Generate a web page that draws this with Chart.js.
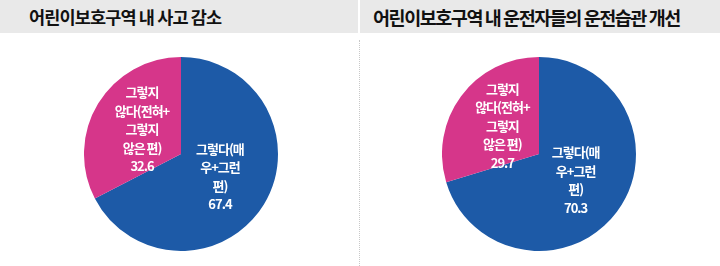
<!DOCTYPE html>
<html>
<head>
<meta charset="utf-8">
<script src="https://cdn.jsdelivr.net/npm/chart.js"></script>
<style>
  html, body { margin: 0; padding: 0; background: #fff; }
  body { width: 720px; height: 266px; position: relative; overflow: hidden;
         font-family: "Noto Sans CJK KR", "Noto Sans", sans-serif; }
  .band { position: absolute; top: 0; height: 33px; background: #e9e9e9; }
  .band h2 { margin: 0; font-size: 17.5px; font-weight: 700; letter-spacing: -0.85px;
             line-height: 34px; color: #111; white-space: nowrap; }
  .sep { position: absolute; left: 359px; top: 40px; bottom: 0; border-left: 1px dotted #c8c8c8; }
  .box { position: absolute; top: 57px; width: 194px; height: 194px; }
</style>
</head>
<body>
<div class="band" style="left:0;width:358px"><h2 style="padding-left:29px">어린이보호구역 내 사고 감소</h2></div>
<div class="band" style="left:360px;width:360px"><h2 style="padding-left:13px;font-size:18.5px;letter-spacing:-1.45px">어린이보호구역 내 운전자들의 운전습관 개선</h2></div>
<div class="sep"></div>
<div class="box" style="left:84px"><canvas id="chartAccident" width="194" height="194"></canvas></div>
<div class="box" style="left:442px"><canvas id="chartHabit" width="194" height="194"></canvas></div>

<script>
// 응답 항목 (슬라이스 안 줄바꿈 그대로)
const categoryLines = [
  ['그렇다(매', '우+그런', '편)'],
  ['그렇지', '않다(전혀+', '그렇지', '않은 편)']
];
const accidentValues = [67.4, 32.6];
const habitValues = [70.3, 29.7];
const sliceColors = ['#1d5aa7', '#d6368a'];

// 슬라이스 안에 항목명 + 값 쓰기
const insideLabels = {
  id: 'insideLabels',
  afterDatasetsDraw(chart) {
    const ctx = chart.ctx;
    const meta = chart.getDatasetMeta(0);
    const values = chart.data.datasets[0].data;
    ctx.save();
    ctx.fillStyle = '#fff';
    ctx.font = '700 13px "Noto Sans CJK KR", sans-serif';
    ctx.letterSpacing = '-1px';
    ctx.textAlign = 'center';
    ctx.textBaseline = 'middle';
    const lh = 18.5;
    meta.data.forEach((arc, i) => {
      const p = arc.getProps(['x', 'y', 'startAngle', 'endAngle', 'outerRadius'], true);
      const mid = (p.startAngle + p.endAngle) / 2;
      const r = p.outerRadius * 0.47;
      const cx = p.x + Math.cos(mid) * r;
      const cy = p.y + Math.sin(mid) * r;
      const lines = categoryLines[i].concat([values[i].toFixed(1)]);
      const top = cy - (lines.length - 1) * lh / 2 - 1;
      lines.forEach((t, k) => ctx.fillText(t, cx, top + k * lh));
    });
    ctx.restore();
  }
};

function makePie(id, values) {
  new Chart(document.getElementById(id), {
    type: 'pie',
    data: {
      labels: categoryLines.map(l => l.join('')),
      datasets: [{ data: values, backgroundColor: sliceColors, borderWidth: 0 }]
    },
    options: {
      responsive: false,
      animation: false,
      devicePixelRatio: 1,
      layout: { padding: 0 },
      plugins: { legend: { display: false }, tooltip: { enabled: false } }
    },
    plugins: [insideLabels]
  });
}

makePie('chartAccident', accidentValues);
makePie('chartHabit', habitValues);
</script>
</body>
</html>
